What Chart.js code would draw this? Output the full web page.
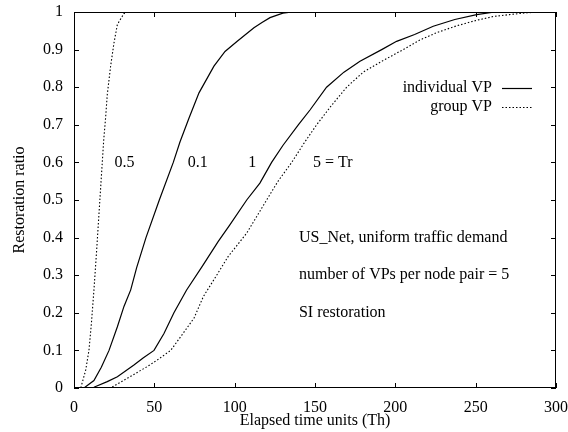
<!DOCTYPE html>
<html>
<head>
<meta charset="utf-8">
<script src="https://cdn.jsdelivr.net/npm/chart.js@4/dist/chart.umd.min.js"></script>
<style>
  body { margin: 0; background: #fff; }
  canvas { display: block; }
</style>
</head>
<body>
<canvas id="chart" width="568" height="432"></canvas>
<script>
// axis ticks
const xTicks = [0, 50, 100, 150, 200, 250, 300];
const yTicks = [0, 0.1, 0.2, 0.3, 0.4, 0.5, 0.6, 0.7, 0.8, 0.9, 1];

// group VP, Tr = 0.5 (dotted)
const g05X = [0, 4.2, 7.3, 9.3, 10.8, 12.4, 14, 15.5, 17, 18.5, 19.7, 20.7, 22.8, 24.9, 27, 31.1, 34, 300];
const g05Y = [0, 0, 0.048, 0.1, 0.17, 0.26, 0.36, 0.46, 0.56, 0.66, 0.72, 0.78, 0.856, 0.918, 0.967, 0.996, 1, 1];

// individual VP, Tr = 0.1 (solid)
const i01X = [0, 6.2, 12.4, 17, 21.8, 27, 31.1, 35.3, 39, 44.8, 53.1, 61.8, 66, 71.6, 77.8, 87.1, 94, 101.6, 112, 117, 122, 130, 136, 300];
const i01Y = [0, 0, 0.02, 0.055, 0.1, 0.163, 0.217, 0.261, 0.32, 0.4, 0.5, 0.6, 0.655, 0.718, 0.785, 0.856, 0.895, 0.922, 0.958, 0.972, 0.985, 0.997, 1, 1];

// individual VP, Tr = 1 (solid)
const i1X = [0, 8, 12.4, 20.7, 27, 37.3, 43, 49.8, 56, 62.2, 70, 80, 89.8, 97, 107.5, 115.7, 123, 130, 139.6, 147, 157.2, 168, 178, 191.5, 200.8, 212, 223.6, 237, 250.6, 262, 300];
const i1Y = [0, 0, 0.002, 0.017, 0.03, 0.061, 0.08, 0.1, 0.145, 0.2, 0.26, 0.325, 0.39, 0.434, 0.5, 0.545, 0.6, 0.645, 0.7, 0.74, 0.8, 0.84, 0.869, 0.9, 0.922, 0.94, 0.962, 0.98, 0.993, 1, 1];

// group VP, Tr = 5 (dotted)
const g5X = [0, 22.8, 33.2, 45.6, 52, 60.2, 67, 74.7, 80.5, 88.8, 96, 107.5, 115.7, 119.9, 127, 135.5, 143, 151, 160, 169.7, 180, 192, 204.9, 215, 225.7, 238, 250.6, 261, 271, 282, 290, 300];
const g5Y = [0, 0, 0.026, 0.057, 0.075, 0.1, 0.14, 0.186, 0.243, 0.3, 0.35, 0.412, 0.47, 0.5, 0.55, 0.6, 0.65, 0.7, 0.75, 0.8, 0.84, 0.87, 0.9, 0.925, 0.945, 0.963, 0.978, 0.988, 0.993, 0.998, 1, 1];

// in-plot labels
const curveLabels = ["0.5", "0.1", "1", "5 = Tr"];
const curveLabelX = [31.5, 77, 111, 161];
const curveLabelY = [0.6, 0.6, 0.6, 0.6];
const noteLines = ["US_Net, uniform traffic demand", "number of VPs per node pair = 5", "SI restoration"];
const noteX = 140;
const noteY = [0.4, 0.3, 0.2];

const FONT = '16px "Liberation Serif", "DejaVu Serif", serif';
const DOTS = [1.5, 2];

function pts(xs, ys) {
    return xs.map((x, i) => ({ x, y: ys[i] }));
}

function lineSet(label, xs, ys, dotted) {
    return {
        label,
        data: pts(xs, ys),
        borderColor: "#000",
        borderWidth: dotted ? 1.1 : 1.2,
        borderDash: dotted ? DOTS : [],
        pointRadius: 0,
        showLine: true,
        tension: 0,
        fill: false
    };
}

// box + inward ticks on all four sides, gnuplot style
const framePlugin = {
    id: "frame",
    afterDraw(chart) {
        const { ctx, chartArea: a, scales } = chart;
        ctx.save();
        ctx.strokeStyle = "#000";
        ctx.lineWidth = 1;
        ctx.setLineDash([]);
        ctx.strokeRect(a.left + 0.5, a.top + 0.5, a.right - a.left - 1, a.bottom - a.top - 1);
        ctx.beginPath();
        const t = 5;
        xTicks.forEach(v => {
            const px = Math.round(scales.x.getPixelForValue(v)) + 0.5;
            ctx.moveTo(px, a.bottom); ctx.lineTo(px, a.bottom - t);
            ctx.moveTo(px, a.top); ctx.lineTo(px, a.top + t);
        });
        yTicks.forEach(v => {
            const py = Math.round(scales.y.getPixelForValue(v)) + 0.5;
            ctx.moveTo(a.left, py); ctx.lineTo(a.left + t, py);
            ctx.moveTo(a.right, py); ctx.lineTo(a.right - t, py);
        });
        ctx.stroke();

        // text in the plot
        ctx.fillStyle = "#000";
        ctx.font = FONT;
        ctx.textBaseline = "middle";
        ctx.textAlign = "center";
        curveLabels.forEach((s, i) => {
            ctx.fillText(s, scales.x.getPixelForValue(curveLabelX[i]), scales.y.getPixelForValue(curveLabelY[i]));
        });
        ctx.textAlign = "left";
        noteLines.forEach((s, i) => {
            ctx.fillText(s, scales.x.getPixelForValue(noteX), scales.y.getPixelForValue(noteY[i]));
        });

        // key
        const keyRight = 492, keyY = [88, 107];
        const keys = [chart.data.datasets[1], chart.data.datasets[0]];
        ctx.textAlign = "right";
        keys.forEach((ds, i) => {
            ctx.fillText(ds.label, keyRight, keyY[i]);
            ctx.beginPath();
            ctx.setLineDash(ds.borderDash);
            ctx.lineWidth = ds.borderWidth;
            ctx.moveTo(502, keyY[i] + 0.5);
            ctx.lineTo(532, keyY[i] + 0.5);
            ctx.stroke();
        });
        ctx.restore();
    }
};

new Chart(document.getElementById("chart"), {
    type: "scatter",
    data: {
        datasets: [
            lineSet("group VP", g05X, g05Y, true),
            lineSet("individual VP", i01X, i01Y, false),
            lineSet("individual VP", i1X, i1Y, false),
            lineSet("group VP", g5X, g5Y, true)
        ]
    },
    options: {
        responsive: false,
        animation: false,
        layout: { padding: { top: 12, right: 12, left: 0, bottom: 0 } },
        plugins: {
            legend: { display: false },
            tooltip: { enabled: false }
        },
        scales: {
            x: {
                type: "linear",
                min: 0,
                max: 300,
                afterBuildTicks: s => { s.ticks = xTicks.map(v => ({ value: v })); },
                afterFit: s => { s.height = 44; s.paddingLeft = 0; s.paddingRight = 0; },
                grid: { display: false },
                border: { display: false },
                ticks: {
                    color: "#000",
                    font: { family: '"Liberation Serif"', size: 16 },
                    padding: 2,
                    maxRotation: 0,
                    callback: v => String(v)
                },
                title: {
                    display: true,
                    text: "Elapsed time units (Th)",
                    color: "#000",
                    font: { family: '"Liberation Serif"', size: 16 },
                    padding: { top: 0, bottom: 2 }
                }
            },
            y: {
                type: "linear",
                min: 0,
                max: 1,
                afterBuildTicks: s => { s.ticks = yTicks.map(v => ({ value: v })); },
                afterFit: s => { s.width = 74; s.paddingTop = 0; s.paddingBottom = 0; },
                grid: { display: false },
                border: { display: false },
                ticks: {
                    color: "#000",
                    font: { family: '"Liberation Serif"', size: 16 },
                    padding: 3,
                    callback: v => String(Math.round(v * 10) / 10)
                },
                title: {
                    display: true,
                    text: "Restoration ratio",
                    color: "#000",
                    font: { family: '"Liberation Serif"', size: 16 },
                    padding: { top: 10, bottom: 0 }
                }
            }
        }
    },
    plugins: [framePlugin]
});
</script>
</body>
</html>
